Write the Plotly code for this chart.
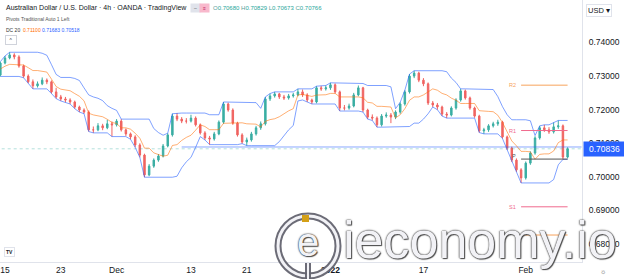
import plotly.graph_objects as go
import pandas as pd

# ---------------- data (AUD/USD; half-day bars) ----------------
first_open = 0.7303
close = [0.7339,0.7354,0.7363,0.7357,0.7330,0.7300,0.7283,0.7271,0.7277,0.7288,
         0.7283,0.7253,0.7238,0.7232,0.7229,0.7223,0.7208,0.7199,0.7193,0.7140,
         0.7140,0.7152,0.7146,0.7158,0.7155,0.7166,0.7140,0.7128,0.7119,0.7095,
         0.7065,0.7006,0.7032,0.7050,0.7062,0.7092,0.7125,0.7181,0.7172,0.7166,
         0.7166,0.7175,0.7155,0.7131,0.7116,0.7113,0.7128,0.7163,0.7217,0.7199,
         0.7160,0.7125,0.7104,0.7110,0.7128,0.7146,0.7158,0.7232,0.7241,0.7247,
         0.7238,0.7235,0.7241,0.7244,0.7253,0.7244,0.7229,0.7223,0.7265,0.7262,
         0.7265,0.7274,0.7253,0.7205,0.7205,0.7211,0.7244,0.7265,0.7199,0.7178,
         0.7175,0.7155,0.7181,0.7184,0.7178,0.7193,0.7217,0.7253,0.7300,0.7309,
         0.7288,0.7277,0.7220,0.7214,0.7208,0.7187,0.7184,0.7205,0.7229,0.7256,
         0.7235,0.7205,0.7181,0.7137,0.7140,0.7152,0.7158,0.7163,0.7119,0.7086,
         0.7050,0.7021,0.6997,0.7041,0.7071,0.7116,0.7146,0.7140,0.7134,0.7149,
         0.7152,0.7059,0.70836]
high = [0.7343,0.7360,0.7371,0.7368,0.7362,0.7334,0.7305,0.7290,0.7284,0.7296,
        0.7293,0.7287,0.7265,0.7244,0.7238,0.7234,0.7227,0.7212,0.7204,0.7198,
        0.7150,0.7160,0.7158,0.7170,0.7165,0.7172,0.7172,0.7144,0.7132,0.7124,
        0.7100,0.7069,0.7038,0.7055,0.7068,0.7098,0.7130,0.7188,0.7190,0.7178,
        0.7175,0.7185,0.7180,0.7159,0.7136,0.7122,0.7134,0.7168,0.7223,0.7221,
        0.7204,0.7164,0.7130,0.7117,0.7134,0.7152,0.7165,0.7238,0.7248,0.7253,
        0.7250,0.7244,0.7247,0.7250,0.7262,0.7260,0.7249,0.7233,0.7270,0.7271,
        0.7272,0.7280,0.7278,0.7257,0.7214,0.7218,0.7250,0.7272,0.7268,0.7203,
        0.7186,0.7180,0.7187,0.7192,0.7190,0.7198,0.7222,0.7258,0.7306,0.7316,
        0.7313,0.7294,0.7281,0.7226,0.7220,0.7212,0.7193,0.7210,0.7234,0.7262,
        0.7260,0.7239,0.7209,0.7185,0.7146,0.7157,0.7164,0.7170,0.7167,0.7123,
        0.7090,0.7055,0.7026,0.7046,0.7076,0.7121,0.7152,0.7155,0.7148,0.7162,
        0.7168,0.7156,0.7088]
low = [0.7299,0.7335,0.7350,0.7350,0.7325,0.7295,0.7279,0.7262,0.7266,0.7273,
       0.7276,0.7248,0.7233,0.7226,0.7222,0.7217,0.7203,0.7193,0.7188,0.7135,
       0.7131,0.7136,0.7139,0.7142,0.7120,0.7150,0.7135,0.7122,0.7112,0.7088,
       0.7058,0.6999,0.7002,0.7027,0.7045,0.7058,0.7088,0.7120,0.7166,0.7160,
       0.7159,0.7162,0.7150,0.7126,0.7110,0.7096,0.7108,0.7124,0.7158,0.7194,
       0.7155,0.7120,0.7099,0.7093,0.7105,0.7123,0.7140,0.7153,0.7226,0.7236,
       0.7232,0.7229,0.7230,0.7236,0.7240,0.7238,0.7223,0.7217,0.7219,0.7256,
       0.7257,0.7259,0.7248,0.7196,0.7198,0.7200,0.7207,0.7240,0.7193,0.7172,
       0.7168,0.7148,0.7150,0.7176,0.7160,0.7172,0.7188,0.7212,0.7248,0.7294,
       0.7282,0.7270,0.7214,0.7208,0.7200,0.7181,0.7175,0.7180,0.7200,0.7224,
       0.7230,0.7200,0.7176,0.7132,0.7128,0.7134,0.7147,0.7152,0.7114,0.7080,
       0.7044,0.7015,0.6982,0.6992,0.7036,0.7066,0.7111,0.7134,0.7128,0.7129,
       0.7143,0.7052,0.7055]

tick_pos = [1, 13, 25, 41, 53, 71, 91, 113]
tick_text = ["15", "23", "Dec", "13", "21", "<b>2022</b>", "17", "Feb"]
price_ticks = [0.68, 0.69, 0.70, 0.71, 0.72, 0.73, 0.74]

pivot_names = ["R2", "R1", "P", "S1", "S2"]
pivot_levels = [0.7273, 0.7138, 0.7053, 0.6911, 0.6827]
pivot_colors = ["#f7a35c", "#f06a8e", "#555555", "#f06a8e", "#f7a35c"]
pivot_start = 112

dc_length = 7          # ~20 bars of 4h in half-day bars
ray_level = 0.7089
ray_start = 39

# ---------------- derived ----------------
n = len(close)
x = list(range(n))
opens = [first_open] + close[:-1]
s_hi = pd.Series(high)
s_lo = pd.Series(low)
dc_up = s_hi.rolling(dc_length, min_periods=1).max()
dc_lo = s_lo.rolling(dc_length, min_periods=1).min()
dc_mid = (dc_up + dc_lo) / 2
last_price = close[-1]

W, H = 624, 279
plot_right = 582
plot_bottom = 262

fig = go.Figure()

fig.add_trace(go.Scatter(x=[x[0] - 1, x[-1] + 3], y=[last_price, last_price], mode="lines",
                         line=dict(color="rgba(38,166,154,0.35)", width=1, dash="dot"),
                         hoverinfo="skip"))
fig.add_trace(go.Scatter(x=[ray_start, x[-1] + 3], y=[ray_level, ray_level], mode="lines",
                         line=dict(color="rgba(41,98,255,0.55)", width=1), hoverinfo="skip"))

fig.add_trace(go.Scatter(x=x, y=dc_up, mode="lines",
                         line=dict(color="rgba(41,98,255,0.6)", width=1), hoverinfo="skip"))
fig.add_trace(go.Scatter(x=x, y=dc_lo, mode="lines",
                         line=dict(color="rgba(41,98,255,0.6)", width=1), hoverinfo="skip"))
fig.add_trace(go.Scatter(x=x, y=dc_mid, mode="lines",
                         line=dict(color="rgba(255,109,0,0.55)", width=1), hoverinfo="skip"))

for name, lvl, col in zip(pivot_names, pivot_levels, pivot_colors):
    fig.add_trace(go.Scatter(x=[pivot_start, x[-1]], y=[lvl, lvl], mode="lines",
                             line=dict(color=col, width=1), hoverinfo="skip"))
    if name != "S2":
        fig.add_annotation(x=pivot_start - 0.6, y=lvl, xref="x", yref="y", text=name,
                           showarrow=False, xanchor="right",
                           yshift=(3 if name == "P" else 0),
                           font=dict(size=5.5, color=col, family="Liberation Sans"))

fig.add_trace(go.Candlestick(
    x=x, open=opens, high=high, low=low, close=close,
    increasing=dict(line=dict(color="#26a69a", width=1), fillcolor="#26a69a"),
    decreasing=dict(line=dict(color="#ef5350", width=1), fillcolor="#ef5350"),
    whiskerwidth=0, hoverinfo="skip", opacity=0.9))

fig.update_layout(
    width=W, height=H, margin=dict(l=0, r=0, t=0, b=0),
    paper_bgcolor="white", plot_bgcolor="white", showlegend=False,
    boxgap=0.55,
    font=dict(family="Liberation Sans", color="#131722"),
    xaxis=dict(domain=[0, plot_right / W], range=[-0.075, 125.1],
               tickvals=tick_pos, ticktext=tick_text, showgrid=False, zeroline=False,
               showline=True, linecolor="#e0e3eb", ticks="", tickfont=dict(size=8.5),
               rangeslider=dict(visible=False), fixedrange=True),
    yaxis=dict(domain=[1 - plot_bottom / H, 1], range=[0.67467, 0.75265], side="right",
               tickvals=price_ticks, tickformat=".5f", showgrid=False, zeroline=False,
               showline=True, linecolor="#e0e3eb", ticks="", ticklabelstandoff=4,
               tickfont=dict(size=8.5)),
)

def px(xp):
    return xp / W

def py(yp):
    return 1 - yp / H

# header texts
fig.add_annotation(x=px(4), y=py(8), xref="paper", yref="paper", xanchor="left", yanchor="middle",
                   text="Australian Dollar / U.S. Dollar · 4h · OANDA · TradingView",
                   showarrow=False, font=dict(size=7, color="#131722"))
fig.add_annotation(x=px(190), y=py(8), xref="paper", yref="paper", xanchor="left", yanchor="middle",
                   text="–", showarrow=False, bgcolor="#e0e3eb", font=dict(size=5, color="#555"),
                   width=7, height=6)
fig.add_annotation(x=px(199), y=py(8), xref="paper", yref="paper", xanchor="left", yanchor="middle",
                   text="≡", showarrow=False, bgcolor="#f8b8cc", font=dict(size=5, color="#c2185b"),
                   width=7, height=6)
tc = "#26a69a"
ohlc = (f"O<span style='color:{tc}'>0.70680</span> H<span style='color:{tc}'>0.70829</span> "
        f"L<span style='color:{tc}'>0.70673</span> C<span style='color:{tc}'>0.70766</span>")
fig.add_annotation(x=px(211), y=py(8), xref="paper", yref="paper", xanchor="left", yanchor="middle",
                   text=ohlc, showarrow=False, font=dict(size=6, color="#5d9e98"))
fig.add_annotation(x=px(4), y=py(19), xref="paper", yref="paper", xanchor="left", yanchor="middle",
                   text="Pivots Traditional Auto 1 Left", showarrow=False,
                   font=dict(size=5, color="#555"))
dc_txt = ("DC 20  <span style='color:#ff6d00'>0.71100</span> "
          "<span style='color:#2962ff'>0.71683</span> <span style='color:#2962ff'>0.70518</span>")
fig.add_annotation(x=px(4), y=py(30), xref="paper", yref="paper", xanchor="left", yanchor="middle",
                   text=dc_txt, showarrow=False, font=dict(size=5, color="#333"))
fig.add_annotation(x=px(5), y=py(40), xref="paper", yref="paper", xanchor="left", yanchor="middle",
                   text="^", showarrow=False, bordercolor="#d0d3db", borderwidth=1, bgcolor="white",
                   font=dict(size=5, color="#333"), width=8, height=6)

# right axis extras
fig.add_annotation(x=px(586), y=py(10), xref="paper", yref="paper", xanchor="left", yanchor="middle",
                   text="USD ▾", showarrow=False, bordercolor="#e0e3eb", borderwidth=1,
                   font=dict(size=7.5, color="#131722"))
fig.add_annotation(x=px(583), y=last_price, xref="paper", yref="y", xanchor="left", yanchor="middle",
                   text="0.70836", showarrow=False, bgcolor="#2962ff", width=39, height=12,
                   font=dict(size=8.5, color="white"))
fig.add_annotation(x=px(603), y=py(271), xref="paper", yref="paper", xanchor="center",
                   yanchor="middle", text="☼", showarrow=False, font=dict(size=7, color="#555"))
fig.add_annotation(x=px(9), y=py(252), xref="paper", yref="paper", xanchor="center",
                   yanchor="middle", text="<b>TV</b>", showarrow=False,
                   font=dict(size=5, color="#131722"), bgcolor="white",
                   bordercolor="#e0e3eb", borderwidth=1)

# watermark
shadow = "0 0 1px #222, 0 0 2px #444, 1px 1px 1px #555"
grey = "rgba(100,100,112,0.95)"
fig.add_shape(type="circle", xref="paper", yref="paper",
              x0=px(278), x1=px(338), y0=py(276), y1=py(216),
              line=dict(color=grey, width=7), layer="above")
fig.add_shape(type="circle", xref="paper", yref="paper",
              x0=px(278), x1=px(338), y0=py(276), y1=py(216),
              line=dict(color="rgba(242,242,246,1)", width=3), layer="above")
fig.add_shape(type="line", xref="paper", yref="paper",
              x0=px(308), x1=px(308), y0=py(263), y1=py(279),
              line=dict(color=grey, width=6), layer="above")
fig.add_shape(type="line", xref="paper", yref="paper",
              x0=px(308), x1=px(308), y0=py(263), y1=py(279),
              line=dict(color="rgba(242,242,246,1)", width=2), layer="above")
fig.add_shape(type="rect", xref="paper", yref="paper",
              x0=px(302), x1=px(309), y0=py(222), y1=py(215),
              fillcolor="#d4a017", line=dict(width=0), layer="above")
fig.add_annotation(x=px(308), y=py(242), xref="paper", yref="paper", xanchor="center",
                   yanchor="middle", text="e", showarrow=False,
                   font=dict(size=40, color="#f2f2f6", family="Liberation Sans", shadow=shadow))
fig.add_annotation(x=px(480), y=py(240), xref="paper", yref="paper", xanchor="center",
                   yanchor="middle", text="ieconomy.io", showarrow=False,
                   font=dict(size=52, color="#f2f2f6", family="Liberation Sans", shadow=shadow))

fig.write_html("out.html")
